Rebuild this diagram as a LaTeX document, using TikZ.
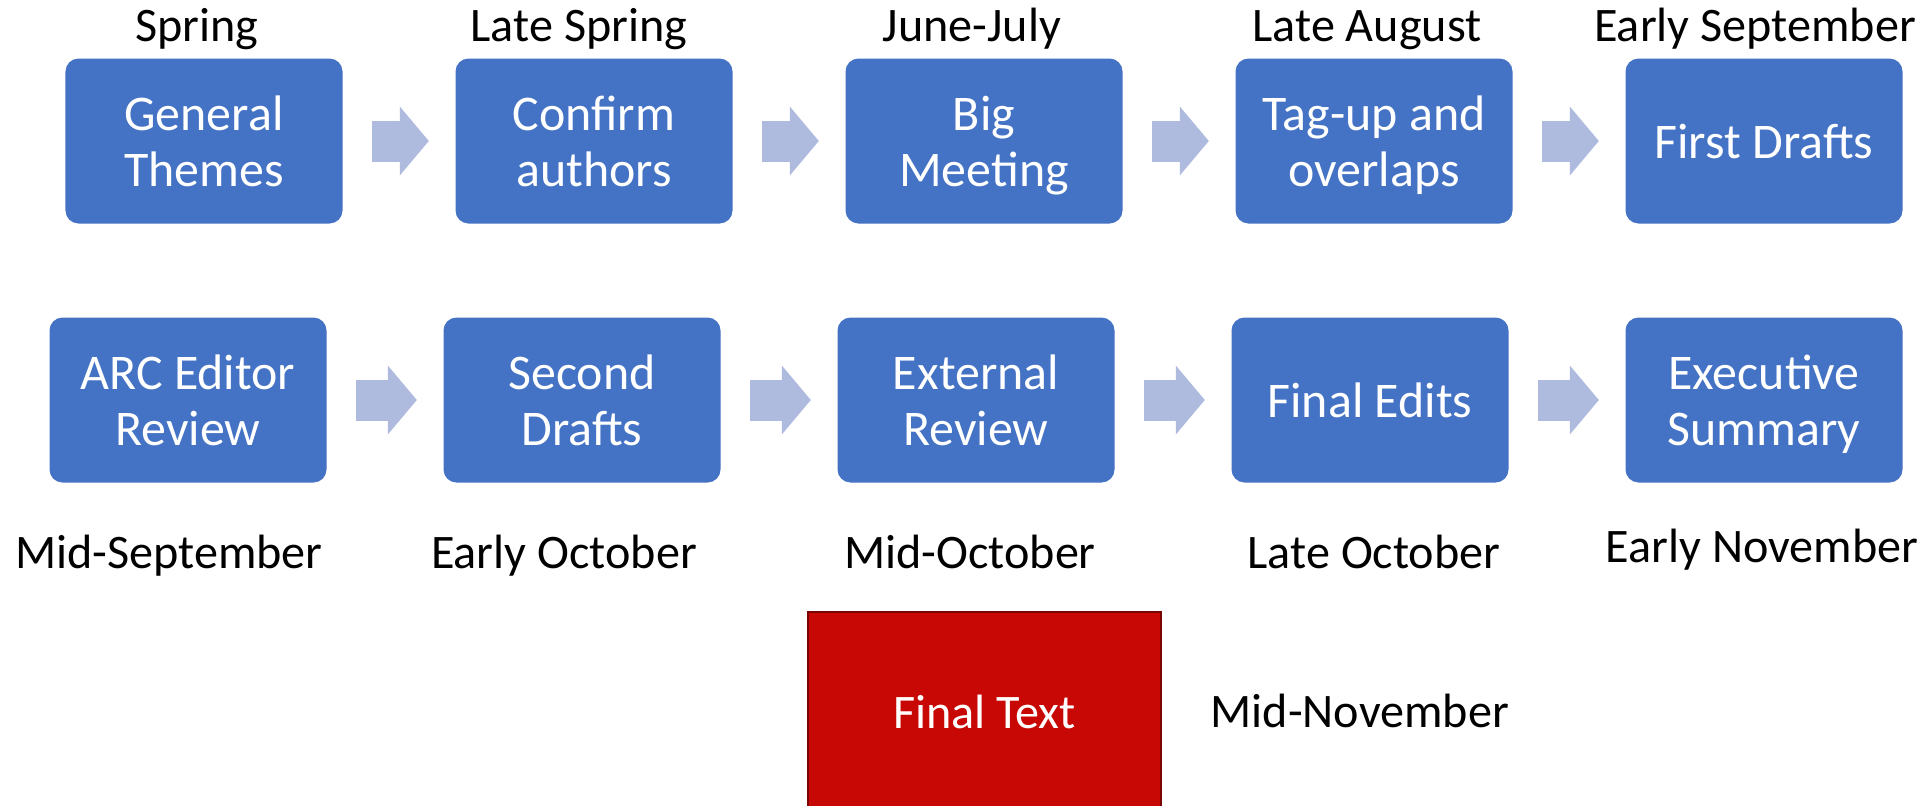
\documentclass[tikz,border=0pt]{standalone}
\usepackage{fontspec}
\setmainfont{Carlito}
\usetikzlibrary{positioning, arrows.meta}
\definecolor{boxblue}{RGB}{68,114,196}
\definecolor{arrowblue}{RGB}{174,186,222}
\definecolor{finalred}{RGB}{200,8,4}
\tikzset{
	node distance=3.9cm,
	stage/.style={fill=boxblue, rounded corners=0.13cm, minimum width=2.77cm, minimum height=1.65cm,
		inner sep=0pt, text=white, align=center, text depth=0pt,
		font=\fontsize{14.2}{15.9}\selectfont},
	datelabel/.style={inner sep=0pt, text height=0.31cm, text depth=0pt,
		font=\fontsize{13.7}{16}\selectfont},
	flow/.style={draw=arrowblue, line width=0.41cm, shorten <=0.29cm, shorten >=0.26cm,
		-{Triangle[width=0.69cm, length=0.29cm, line width=0pt]}},
	finalbox/.style={fill=finalred, draw=finalred!60!black, line width=0.5pt,
		minimum width=3.53cm, minimum height=2cm, text=white,
		font=\fontsize{13.7}{16}\selectfont}
}

\begin{document}
\begin{tikzpicture}
	\useasboundingbox (0,0) rectangle (19.31,-8.05);
	
	%Top
	\node[stage] (t1) at (2.04,-1.41) {General\\Themes};
	\node[stage, right of=t1] (t2) {Confirm\\authors};
	\node[stage, right of=t2] (t3) {Big\\Meeting};
	\node[stage, right of=t3] (t4) {Tag-up and\\overlaps};
	\node[stage, right of=t4] (t5) {First Drafts};
	
	%Bottom
	\node[stage] (b1) at (1.88,-4.00) {ARC Editor\\Review};
	\node[stage, node distance=3.94cm, right of=b1] (b2) {Second\\Drafts};
	\node[stage, node distance=3.94cm, right of=b2] (b3) {External\\Review};
	\node[stage, node distance=3.94cm, right of=b3] (b4) {Final Edits};
	\node[stage, node distance=3.94cm, right of=b4] (b5) {Executive\\Summary};
	
	%Dates top
	\node[datelabel, above=0.16cm of t1, xshift=-0.07cm] (d1) {Spring};
	\node[datelabel, above=0.16cm of t2, xshift=-0.15cm] (d2) {Late Spring};
	\node[datelabel, above=0.16cm of t3, xshift=-0.12cm] (d3) {June-July};
	\node[datelabel, above=0.16cm of t4, xshift=-0.07cm] (d4) {Late August};
	\node[datelabel, above=0.16cm of t5, xshift=-0.09cm] (d5) {Early September};
	
	%Dates bottom
	\node[datelabel, below=0.54cm of b1, xshift=-0.19cm] (d6) {Mid-September};
	\node[datelabel, below=0.54cm of b2, xshift=-0.18cm] (d7) {Early October};
	\node[datelabel, below=0.54cm of b3, xshift=-0.06cm] (d8) {Mid-October};
	\node[datelabel, below=0.54cm of b4, xshift=0.04cm] (d9) {Late October};
	\node[datelabel, below=0.48cm of b5, xshift=-0.02cm] (d10) {Early November};
	
	% Final
	\node[finalbox] (final) at (9.845,-7.12) {Final Text};
	\node[datelabel, right=0.48cm of final] (d11) {Mid-November};
	
	\draw
	(t1) edge[flow] (t2)
	(t2) edge[flow] (t3)
	(t3) edge[flow] (t4)
	(t4) edge[flow] (t5)
	
	(b1) edge[flow] (b2)
	(b2) edge[flow] (b3)
	(b3) edge[flow] (b4)
	(b4) edge[flow] (b5)
	;
\end{tikzpicture}
\end{document}
